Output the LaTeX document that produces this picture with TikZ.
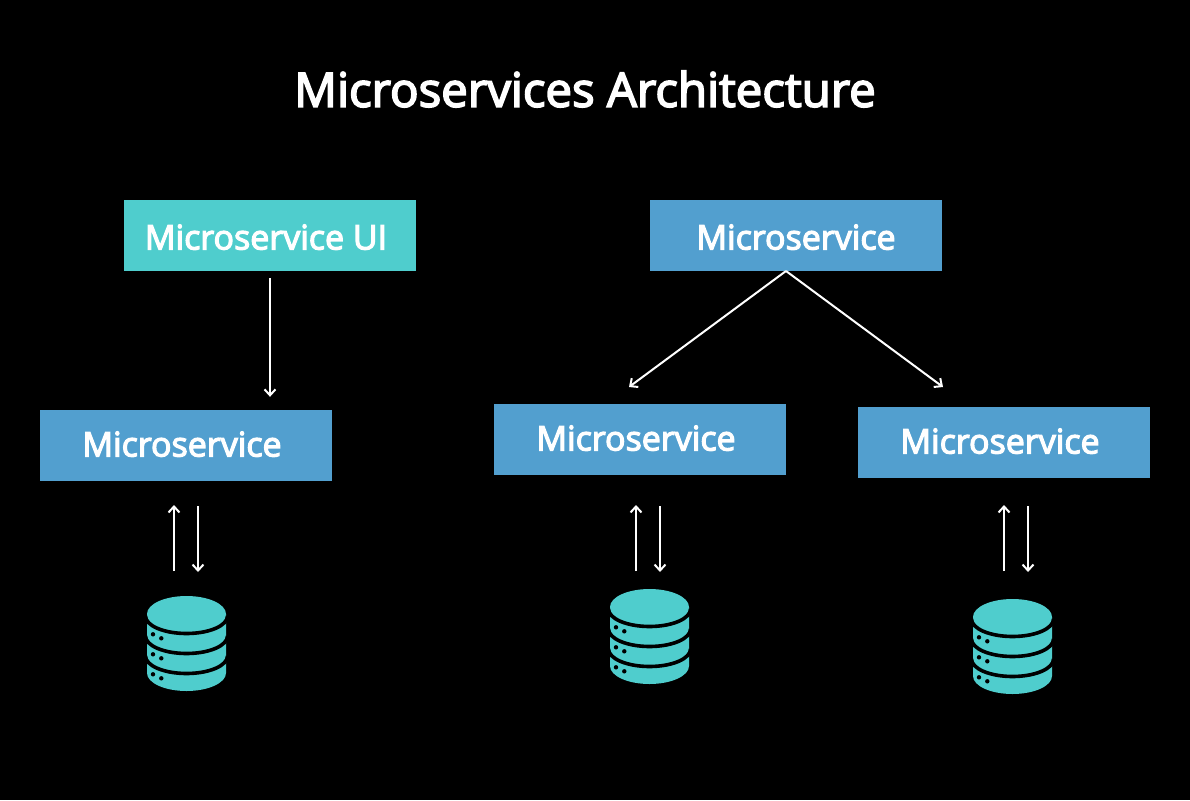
\documentclass[tikz,border=0pt]{standalone}
\usepackage{fontspec}
\setmainfont{Open Sans}[FakeBold=3.5]
\usetikzlibrary{arrows.meta}
\definecolor{tealfill}{HTML}{4FCDCD}
\definecolor{bluefill}{HTML}{529FCF}
\tikzset{
    box/.style={fill=#1, text=white, minimum width=292pt, minimum height=71pt, inner sep=0pt, text height=28pt, text depth=0pt, font=\fontsize{34}{40}\selectfont},
    box/.default=bluefill,
    lowbox/.style={box, text depth=6pt},
    flow/.style={->, >={Straight Barb[length=6pt,width=11pt]}, white, line width=2pt},
    dbicon/.pic={
        \fill[tealfill] (-39.5,18) -- (-39.5,77) arc[start angle=180,end angle=0,x radius=39.5,y radius=18] -- (39.5,18) -- cycle;
        \fill[tealfill] (0,18) ellipse [x radius=39.5,y radius=18];
        \foreach \k in {0,20,40}{
            \draw[black, line width=3.6pt] (-41,20+\k) arc[start angle=180,end angle=0,x radius=41,y radius=17.5];
            \fill[black] (-33.5,38.3+\k) circle [radius=2.2];
            \fill[black] (-25.2,42.3+\k) circle [radius=2.2];}
    },
}
\begin{document}
\begin{tikzpicture}[x=1pt,y=-1pt]
    \fill[black] (0,0) rectangle (1190,800);
    \useasboundingbox (0,0) rectangle (1190,800);
    \node[white, font=\fontsize{47.4}{56}\selectfont] (title) at (585,89) {Microservices Architecture};
    \node[box=tealfill] (ui) at (270,235.5) {\hspace*{-8pt}Microservice UI};
    \node[box] (top) at (796,235.5) {Microservice};
    \node[lowbox] (left) at (186,445.5) {\hspace*{-8pt}Microservice};
    \node[lowbox] (mid) at (640,439.5) {\hspace*{-8pt}Microservice};
    \node[lowbox] (right) at (1004,442.5) {\hspace*{-8pt}Microservice};
    \draw[flow, shorten <=7pt, shorten >=13pt] (ui.south) -- (ui.south |- left.north);
    \coordinate (fork) at (786,271);
    \coordinate (forkl) at (629,387);
    \coordinate (forkr) at (943,387);
    \draw[flow] (fork) -- (forkl);
    \draw[flow] (fork) -- (forkr);
    \foreach \n/\u/\d/\c/\t in {l/174/198/186.5/596,m/636/660/649.5/589,r/1004/1028/1012.5/599}{
        \coordinate (up\n) at (\u,505);
        \coordinate (upbase\n) at (\u,571);
        \coordinate (down\n) at (\d,506);
        \coordinate (downtip\n) at (\d,572);
        \draw[flow] (upbase\n) -- (up\n);
        \draw[flow] (down\n) -- (downtip\n);
        \pic at (\c,\t) {dbicon};}
\end{tikzpicture}
\end{document}
